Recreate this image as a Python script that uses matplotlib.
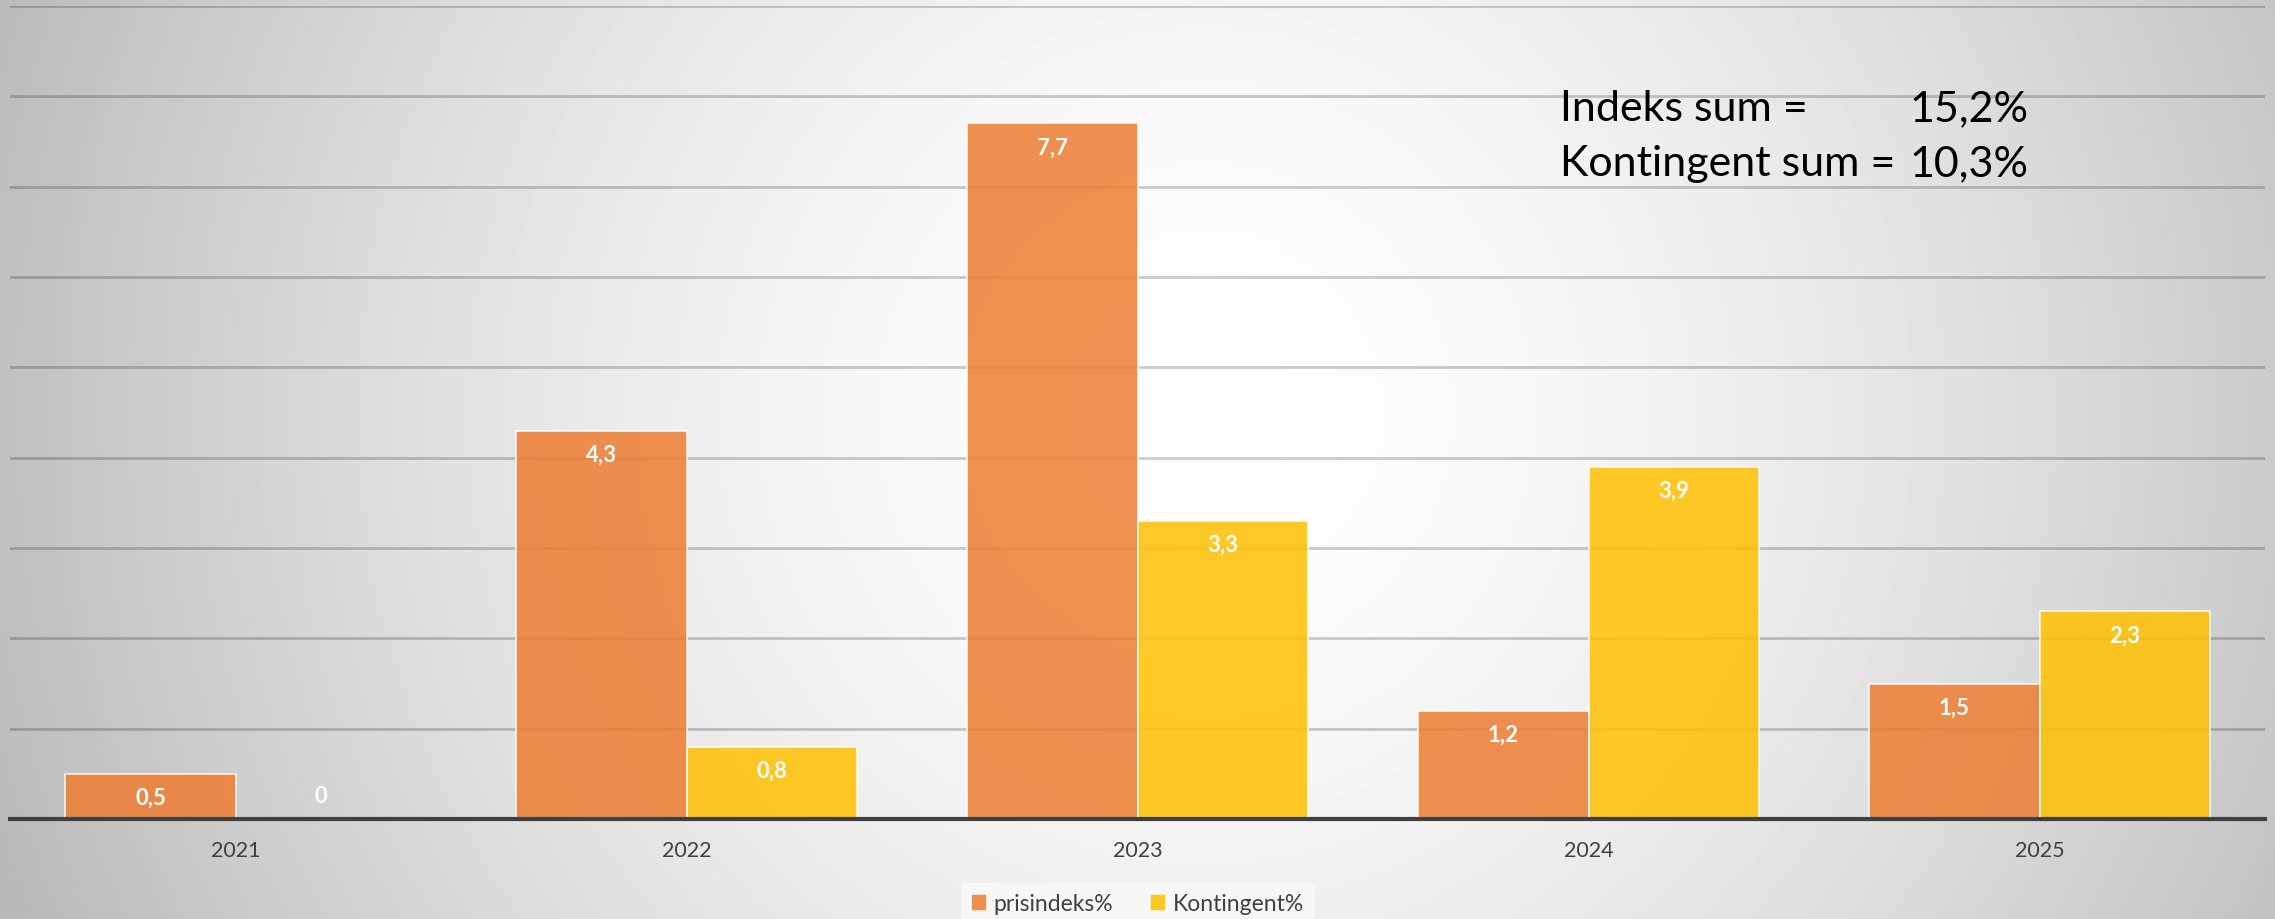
import numpy as np
import matplotlib.pyplot as plt

years = ['2021', '2022', '2023', '2024', '2025']
prisindeks = [0.5, 4.3, 7.7, 1.2, 1.5]
kontingent = [0.0, 0.8, 3.3, 3.9, 2.3]
sum_lines = [('Indeks sum =', '15,2%'), ('Kontingent sum =', '10,3%')]

plt.rcParams['font.family'] = ['Lato', 'DejaVu Sans']

fig = plt.figure(figsize=(22.75, 9.2), dpi=100)

# radial grey background
bg = fig.add_axes([0, 0, 1, 1], zorder=-1)
gx, gy = np.meshgrid(np.linspace(0, 1, 600), np.linspace(0, 1, 300))
d = np.sqrt(((gx - 0.53) / 0.52) ** 2 + ((gy - 0.45) / 1.3) ** 2)
shade = np.clip(1 - 0.24 * d ** 1.6, 0, 1)
bg.imshow(shade, cmap='gray', vmin=0, vmax=1, extent=[0, 1, 0, 1], aspect='auto', origin='upper')
bg.axis('off')

ax = fig.add_axes([10 / 2275, 1 - 820 / 920, 2255 / 2275, (820 - 7) / 920])
ax.patch.set_alpha(0)

x = np.arange(len(years))
w = 0.377
b1 = ax.bar(x - w / 2, prisindeks, w, color='#ED7D31', alpha=0.85,
            edgecolor=(1, 1, 1, 0.6), linewidth=1.2, label='prisindeks%', zorder=2)
b2 = ax.bar(x + w / 2, kontingent, w, color='#FFC000', alpha=0.85,
            edgecolor=(1, 1, 1, 0.6), linewidth=1.2, label='Kontingent%', zorder=2)

for bars, vals in [(b1, prisindeks), (b2, kontingent)]:
    for r, v in zip(bars, vals):
        txt = ('%g' % v).replace('.', ',')
        off = -17 if v > 0 else 17
        ax.annotate(txt, (r.get_x() + r.get_width() / 2, v), xytext=(0, off),
                    textcoords='offset points', ha='center', va='center',
                    color='white', fontsize=16, fontweight='bold', zorder=3)

ax.set_xlim(-0.5, len(years) - 0.5)
ax.set_ylim(0, 9)
ax.set_yticks(np.arange(1, 10))
ax.yaxis.grid(True, color='black', alpha=0.2, linewidth=2)
ax.set_axisbelow(True)
ax.tick_params(axis='y', left=False, labelleft=False)
ax.tick_params(axis='x', length=0, pad=15, labelsize=15.5, labelcolor='#404040')
ax.set_xticks(x)
ax.set_xticklabels(years)
for s in ['top', 'right', 'left']:
    ax.spines[s].set_visible(False)
ax.spines['bottom'].set_color('#404040')
ax.spines['bottom'].set_linewidth(3)

for i, (lab, val) in enumerate(sum_lines):
    yy = 1 - (109 + 55 * i) / 920
    fig.text(1560 / 2275, yy, lab, fontsize=31, va='center', ha='left', color='black')
    fig.text(2028 / 2275, yy, val, fontsize=31, va='center', ha='right', color='black')

leg = fig.legend(loc='center', bbox_to_anchor=(0.5, 1 - 905 / 920), ncol=2,
                 fontsize=16.5, frameon=True, fancybox=False, handlelength=0.7,
                 handleheight=0.7, handletextpad=0.3, columnspacing=1.6,
                 borderpad=0.45, labelcolor='#404040')
leg.get_frame().set_facecolor('#f8f8f8')
leg.get_frame().set_edgecolor('none')
leg.get_frame().set_alpha(0.9)

fig.savefig('out.png', dpi=100)
